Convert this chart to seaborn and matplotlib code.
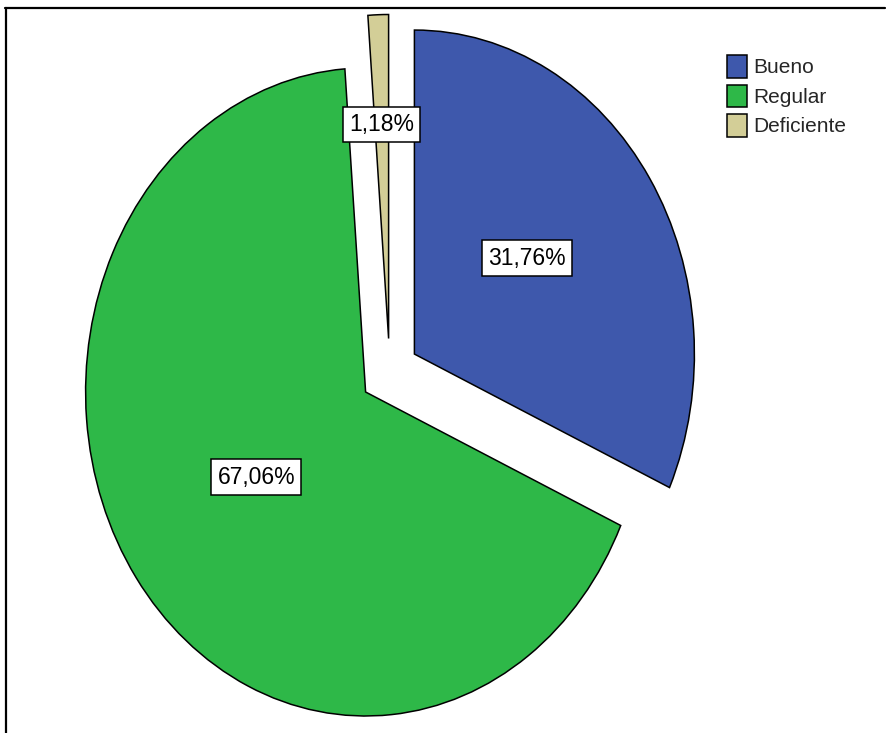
import numpy as np
import matplotlib
matplotlib.use("Agg")
import matplotlib.pyplot as plt
from matplotlib.lines import Line2D
import seaborn as sns

# Categories, percentages and slice colours
categories = ["Bueno", "Regular", "Deficiente"]
percentages = [31.76, 67.06, 1.18]
colors = ["#3E58AC", "#2EB848", "#D3CE97"]

sns.set_theme(style="white")
plt.rcParams["font.family"] = ["Liberation Sans", "DejaVu Sans"]

W, H = 887, 733
fig = plt.figure(figsize=(W / 100, H / 100), dpi=100)
ax = fig.add_axes([0, 0, 1, 1])

# Pie centre and semi-axes in pixels (slightly elliptical pie)
cx, cy = 389.7, 372.5
rx, ry = 280.0, 324.0

wedges, _ = ax.pie(
    percentages,
    colors=colors,
    startangle=90,
    counterclock=False,
    explode=[0.105] * len(percentages),
    radius=1.0,
    wedgeprops=dict(edgecolor="black", linewidth=1.1),
)
ax.set_aspect("auto")
ax.set_xlim(-cx / rx, (W - cx) / rx)
ax.set_ylim((cy - H) / ry, cy / ry)
ax.axis("off")

# Percentage labels inside each slice (distance from slice tip, angle tweak)
label_dist = [0.50, 0.47, 0.66]
label_turn = [3.5, -1.0, 0.0]
for w, pct, d, t in zip(wedges, percentages, label_dist, label_turn):
    mid = np.deg2rad((w.theta1 + w.theta2) / 2 + t)
    x = w.center[0] + d * np.cos(mid)
    y = w.center[1] + d * np.sin(mid)
    ax.text(
        x, y, f"{pct:.2f}".replace(".", ",") + "%",
        ha="center", va="center", fontsize=16.5, color="black",
        bbox=dict(boxstyle="square,pad=0.27", facecolor="white",
                  edgecolor="black", linewidth=1.1),
    )

leg = fig.legend(
    wedges, categories,
    loc="upper left",
    bbox_to_anchor=(727 / W, 1 - 55 / H),
    frameon=False,
    fontsize=15,
    handlelength=0.96,
    handleheight=1.3,
    handletextpad=0.28,
    labelspacing=0.33,
    borderpad=0,
    borderaxespad=0,
)

# Outer frame lines (top and left)
fig.add_artist(Line2D([5 / W, 885 / W], [1 - 8 / H, 1 - 8 / H],
                      transform=fig.transFigure, color="black", linewidth=1.6))
fig.add_artist(Line2D([6 / W, 6 / W], [1 - 8 / H, 0],
                      transform=fig.transFigure, color="black", linewidth=1.6))

fig.savefig("out.png", dpi=100, facecolor="white")
